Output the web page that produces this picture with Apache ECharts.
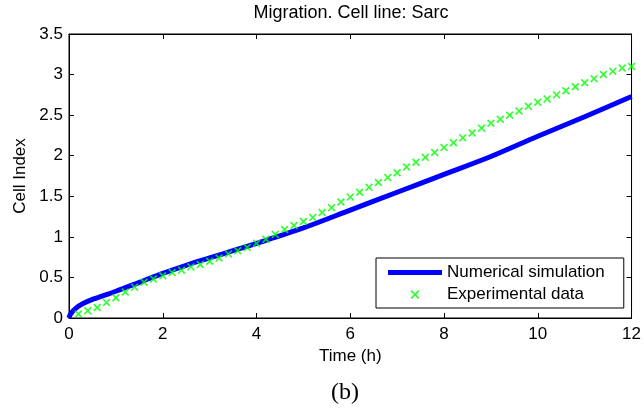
<!DOCTYPE html>
<html>
<head>
<meta charset="utf-8">
<script src="https://cdn.jsdelivr.net/npm/echarts@6/dist/echarts.min.js"></script>
<style>
html,body{margin:0;padding:0;background:#fff;}
#chart{width:644px;height:412px;}
</style>
</head>
<body>
<div id="chart"></div>
<script>
// ---- data ----
var titleText = 'Migration. Cell line: Sarc';
var xName = 'Time (h)';
var yName = 'Cell Index';
var caption = '(b)';
var seriesNames = ['Numerical simulation', 'Experimental data'];

var simTime  = [0, 0.02, 0.05, 0.1, 0.2, 0.3, 0.5, 0.75, 1, 1.5, 2, 2.5, 3, 3.5, 4, 5, 6, 7, 8, 9, 10, 11, 12];
var simValue = [0, 0.035, 0.06, 0.095, 0.145, 0.18, 0.23, 0.28, 0.33, 0.44, 0.55, 0.65, 0.74, 0.83, 0.92, 1.11, 1.33, 1.55, 1.77, 1.99, 2.24, 2.48, 2.73];

var expTime  = [0.2, 0.4, 0.6, 0.8, 1.0, 1.2, 1.4, 1.6, 1.8, 2.0, 2.2, 2.4, 2.6, 2.8, 3.0, 3.2, 3.4, 3.6, 3.8, 4.0,
                4.2, 4.4, 4.6, 4.8, 5.0, 5.2, 5.4, 5.6, 5.8, 6.0, 6.2, 6.4, 6.6, 6.8, 7.0, 7.2, 7.4, 7.6, 7.8, 8.0,
                8.2, 8.4, 8.6, 8.8, 9.0, 9.2, 9.4, 9.6, 9.8, 10.0, 10.2, 10.4, 10.6, 10.8, 11.0, 11.2, 11.4, 11.6, 11.8, 12.0];
var expValue = [0.05, 0.09, 0.13, 0.19, 0.25, 0.32, 0.38, 0.44, 0.48, 0.52, 0.56, 0.59, 0.63, 0.66, 0.70, 0.74, 0.79, 0.83, 0.87, 0.92,
                0.97, 1.03, 1.09, 1.14, 1.19, 1.24, 1.30, 1.36, 1.43, 1.49, 1.55, 1.61, 1.67, 1.73, 1.79, 1.86, 1.92, 1.98, 2.04, 2.10,
                2.16, 2.22, 2.28, 2.34, 2.40, 2.45, 2.50, 2.55, 2.61, 2.66, 2.70, 2.75, 2.80, 2.85, 2.90, 2.95, 3.00, 3.04, 3.08, 3.10];

var xMin = 0, xMax = 12, xStep = 2;
var yMin = 0, yMax = 3.5, yStep = 0.5;

// ---- build ----
function pairs(xs, ys) { return xs.map(function (x, i) { return [x, ys[i]]; }); }

var FONT = 'Liberation Sans, Arial, Helvetica, sans-serif';
var crossPath = 'path://M0,1.5L1.5,0L5,3.5L8.5,0L10,1.5L6.5,5L10,8.5L8.5,10L5,6.5L1.5,10L0,8.5L3.5,5Z';
var barPath = 'path://M0,0L54,0L54,5L0,5Z';

var chart = echarts.init(document.getElementById('chart'), null, {renderer: 'canvas'});
var tickInside = {show: true, inside: true, length: 5, lineStyle: {color: '#000', width: 1}};
var option = {
  backgroundColor: '#fff',
  animation: false,
  textStyle: {fontFamily: FONT},
  title: {
    text: titleText,
    left: 351, top: 4, textAlign: 'center', padding: 0,
    textStyle: {fontFamily: FONT, fontSize: 18, fontWeight: 'normal', color: '#000'}
  },
  grid: {left: 69, right: 11, top: 34, bottom: 94, show: true, borderColor: '#000', borderWidth: 1, containLabel: false},
  legend: {
    orient: 'vertical',
    left: 376, top: 258,
    padding: [6, 19, 5, 12],
    itemGap: 5,
    itemWidth: 54, itemHeight: 9,
    backgroundColor: '#fff', borderColor: '#000', borderWidth: 1,
    textStyle: {fontFamily: FONT, fontSize: 17, color: '#000'},
    data: [
      {name: seriesNames[0], icon: barPath, itemStyle: {color: '#0000ff'}},
      {name: seriesNames[1], icon: crossPath}
    ]
  },
  xAxis: [{
    type: 'value', min: xMin, max: xMax, interval: xStep, position: 'bottom',
    name: xName, nameLocation: 'middle', nameGap: 28,
    nameTextStyle: {fontFamily: FONT, fontSize: 17, color: '#000'},
    axisLine: {show: true, onZero: false, lineStyle: {color: '#000', width: 1}},
    axisTick: tickInside,
    axisLabel: {fontFamily: FONT, fontSize: 17, color: '#000', margin: 8},
    splitLine: {show: false}
  }, {
    type: 'value', min: xMin, max: xMax, interval: xStep, position: 'top',
    axisLine: {show: true, onZero: false, lineStyle: {color: '#000', width: 1}},
    axisTick: tickInside, axisLabel: {show: false}, splitLine: {show: false}
  }],
  yAxis: [{
    type: 'value', min: yMin, max: yMax, interval: yStep, position: 'left',
    name: yName, nameLocation: 'middle', nameGap: 37, nameRotate: 90,
    nameTextStyle: {fontFamily: FONT, fontSize: 17, color: '#000'},
    axisLine: {show: true, onZero: false, lineStyle: {color: '#000', width: 1}},
    axisTick: tickInside,
    axisLabel: {fontFamily: FONT, fontSize: 17, color: '#000', margin: 6},
    splitLine: {show: false}
  }, {
    type: 'value', min: yMin, max: yMax, interval: yStep, position: 'right',
    axisLine: {show: true, onZero: false, lineStyle: {color: '#000', width: 1}},
    axisTick: tickInside, axisLabel: {show: false}, splitLine: {show: false}
  }],
  series: [{
    name: seriesNames[0], type: 'line', xAxisIndex: 0, yAxisIndex: 0,
    data: pairs(simTime, simValue),
    smooth: 0.3, symbol: 'none', showSymbol: false,
    lineStyle: {color: '#0000ff', width: 5},
    itemStyle: {color: '#0000ff'},
    z: 2
  }, {
    name: seriesNames[1], type: 'scatter', xAxisIndex: 0, yAxisIndex: 0,
    data: pairs(expTime, expValue),
    symbol: crossPath, symbolSize: 8,
    itemStyle: {color: '#00ff00'},
    z: 3
  }],
  graphic: [{
    type: 'text', left: 331, top: 381,
    style: {text: caption, x: 0, y: 0, textAlign: 'center', font: '24px "Liberation Serif", "DejaVu Serif", serif', fill: '#000'}
  }]
};
chart.setOption(option);
</script>
</body>
</html>
